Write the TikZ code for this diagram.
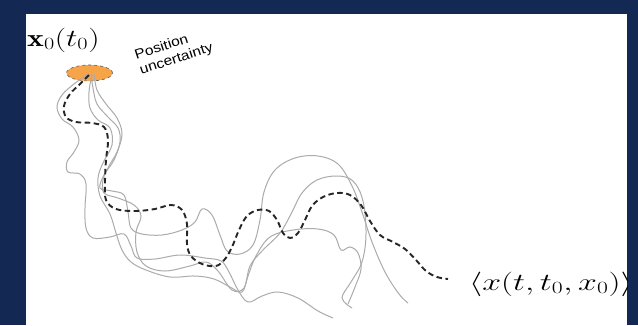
\RequirePackage{fix-cm}
\documentclass[tikz,border=0pt]{standalone}
\usepackage{amsmath,amssymb}
\usepackage{fontspec}
\usepackage{xcolor}
\usetikzlibrary{shapes.geometric, positioning, calc}

\newfontfamily\notefont{Liberation Sans}
\definecolor{frame}{RGB}{20,40,84}
\definecolor{spread}{RGB}{247,164,72}

\begin{document}
\begin{tikzpicture}[
    x=1pt, y=-1pt,
    traj/.style={draw=black!33, line width=1pt, smooth, tension=0.6},
    mean/.style={draw=black!85, line width=1.9pt, dash pattern=on 5.5pt off 3.5pt, smooth, tension=0.6},
    blob/.style={ellipse, draw=black!65, dashed, line width=0.6pt, fill=spread, minimum width=46pt, minimum height=16pt, inner sep=0pt},
    sym/.style={inner sep=0pt, font=\fontsize{24.5}{28}\selectfont},
    note/.style={inner sep=0pt, align=left, font=\notefont\fontsize{13.5}{16}\selectfont}
]

% page and white panel
\useasboundingbox (0,0) rectangle (638,325);
\fill[frame] (0,0) rectangle (638,325);
\fill[white] (26,14) rectangle (627,325);

\begin{scope}
\clip (26,14) rectangle (627,325);

% initial spread
\node[blob] (blob) at (89.5,73) {};

% sample trajectories
\draw[traj] plot coordinates {(91,74) (93,88) (97,104) (108,117) (118,128) (120,142) (114,160) (104,175) (100,188) (112,191) (124,195) (128,212) (131,228) (142,234) (162,235) (182,230) (195,222) (202,209) (212,215) (220,235) (227,251) (240,254) (253,245) (260,220) (264,192) (275,170) (295,158) (318,156) (338,164) (352,186) (362,212) (372,242) (385,272) (399,294) (408,303)};
\draw[traj] plot coordinates {(88,74) (74,84) (62,95) (57,107) (62,119) (73,127) (79,140) (74,152) (67,162) (68,172) (80,174) (86,184) (85,208) (86,228) (93,238) (110,237) (124,234) (131,246) (137,258) (155,259) (180,255) (205,258) (221,261) (229,272) (238,290) (248,302) (262,296) (278,292) (298,298) (318,311) (333,318)};
\draw[traj] plot coordinates {(94,74) (97,90) (106,104) (117,118) (122,134) (117,152) (109,166) (103,180) (104,193) (118,198) (134,205) (141,216) (136,232) (137,252) (146,266) (165,271) (190,266) (206,262) (218,271) (232,290) (244,288) (250,266) (262,251) (280,233) (291,214) (302,193) (317,180) (337,176) (353,181) (363,201) (366,234) (362,262) (351,282) (342,298) (352,308)};
\draw[traj] plot coordinates {(92,74) (89,92) (90,108) (98,120) (110,128) (112,145) (103,163) (98,178) (100,196) (110,214) (116,233) (122,250) (131,262) (146,270) (170,277) (195,276) (214,279) (230,287) (242,292) (248,276) (256,256) (270,237) (293,230) (318,229) (334,235) (341,250) (350,247) (358,253) (361,269) (355,287) (348,304)};

% ensemble mean
\draw[mean] plot coordinates {(89,75) (80,84) (70,94) (64,106) (66,117) (76,122) (92,123) (104,127) (108,140) (106,160) (105,182) (106,200) (116,209) (135,211) (155,209) (171,205) (182,210) (187,224) (187,244) (191,256) (202,264) (216,266) (225,259) (232,247) (239,230) (247,216) (258,210) (269,211) (277,220) (283,233) (290,238) (298,233) (305,220) (312,206) (323,197) (337,193) (350,195) (361,205) (370,221) (380,235) (393,242) (405,249) (416,260) (426,271) (437,277) (448,279)};

% labels
\node[sym, anchor=west] (start) at (27,40) {\scalebox{1.3}[1]{$\mathbf{x}_0(t_0)$}};
\node[sym, anchor=west] (avg) at (469,284) {\scalebox{1.38}[1]{$\langle x(t,t_0,x_0)\rangle$}};
\node[note, rotate=18] (unc) at (174,52) {\scalebox{1.15}[1]{Position}\\\scalebox{1.15}[1]{uncertainty}};
\end{scope}

\end{tikzpicture}
\end{document}
